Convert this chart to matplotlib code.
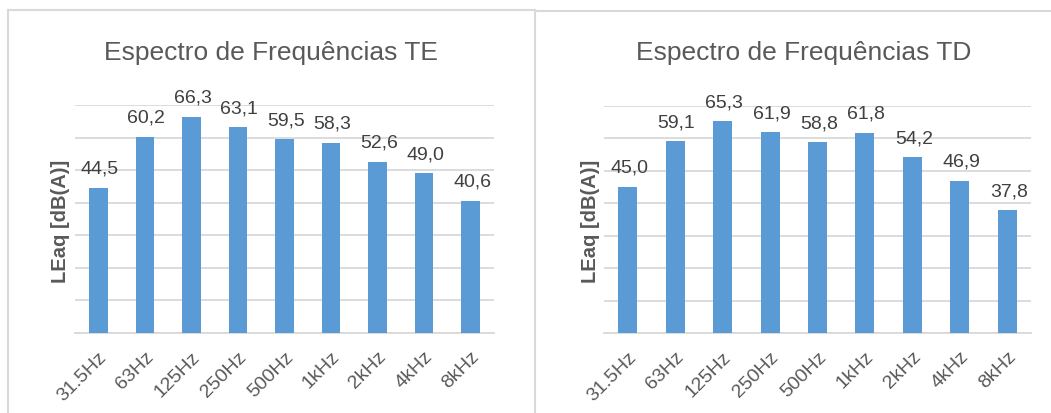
"""Espectro de frequências TE / TD — LEaq por banda de oitava (Excel-style bars)."""

import matplotlib.pyplot as plt
from matplotlib.lines import Line2D

plt.rcParams["font.family"] = ["Liberation Sans", "DejaVu Sans"]

W, H = 1051, 414

BANDS = ["31.5Hz", "63Hz", "125Hz", "250Hz", "500Hz", "1kHz", "2kHz", "4kHz", "8kHz"]
TE_VALUES = [44.5, 60.2, 66.3, 63.1, 59.5, 58.3, 52.6, 49.0, 40.6]
TD_VALUES = [45.0, 59.1, 65.3, 61.9, 58.8, 61.8, 54.2, 46.9, 37.8]
TITLES = ["Espectro de Frequências TE", "Espectro de Frequências TD"]
YLABEL = "LEaq [dB(A)]"

BAR_COLOUR = "#5B9BD5"
GRID_COLOUR = "#D9D9D9"
TEXT_COLOUR = "#595959"
LABEL_COLOUR = "#404040"


def px_rect(x0, y0, x1, y1):
    # pixel box (top-left origin) -> figure fraction [l, b, w, h]
    return [x0 / W, (H - y1) / H, (x1 - x0) / W, (y1 - y0) / H]


def draw_panel(fig, axes_box, title, title_xy, ylabel_xy, values):
    ax = fig.add_axes(px_rect(*axes_box))
    x = range(len(BANDS))
    bars = ax.bar(x, values, width=0.4, color=BAR_COLOUR, zorder=3)
    ax.set_xlim(-0.5, len(BANDS) - 0.5)
    ax.set_ylim(0, 70)
    ax.set_yticks(range(0, 71, 10))
    ax.yaxis.grid(True, color=GRID_COLOUR, linewidth=1.3, zorder=0)
    ax.tick_params(axis="y", left=False, labelleft=False)
    ax.tick_params(axis="x", bottom=False, pad=7)
    for side in ("left", "right", "top"):
        ax.spines[side].set_visible(False)
    ax.spines["bottom"].set_color(GRID_COLOUR)
    ax.spines["bottom"].set_linewidth(1.3)

    ax.set_xticks(list(x))
    ax.set_xticklabels(BANDS, rotation=45, ha="right", va="top",
                       rotation_mode="anchor", fontsize=14, color=TEXT_COLOUR)

    for b, v in zip(bars, values):
        ax.annotate(f"{v:.1f}".replace(".", ","),
                    (b.get_x() + b.get_width() / 2, v),
                    xytext=(1, 8), textcoords="offset points",
                    ha="center", va="bottom", fontsize=14, color=LABEL_COLOUR)

    fig.text(title_xy[0] / W, 1 - title_xy[1] / H, title, ha="center", va="center",
             fontsize=19, color=TEXT_COLOUR)
    fig.text(ylabel_xy[0] / W, 1 - ylabel_xy[1] / H, YLABEL, ha="center", va="center",
             rotation=90, fontsize=14.5, fontweight="bold", color=TEXT_COLOUR)
    return ax


def main():
    fig = plt.figure(figsize=(W / 100, H / 100), dpi=100)
    fig.patch.set_facecolor("white")

    # chart frames (light grey borders like the Excel chart areas)
    frame = dict(color=GRID_COLOUR, linewidth=1.5, transform=fig.transFigure)
    fig.add_artist(Line2D([8 / W, 8 / W], [0, 1 - 11 / H], **frame))
    fig.add_artist(Line2D([8 / W, 535 / W], [1 - 11 / H, 1 - 11 / H], **frame))
    fig.add_artist(Line2D([535 / W, 535 / W], [0, 1 - 11 / H], **frame))
    fig.add_artist(Line2D([535 / W, 1], [1 - 12 / H, 1 - 12 / H], **frame))

    draw_panel(fig, (75, 106, 494, 334), TITLES[0], (271, 53), (61, 221), TE_VALUES)
    draw_panel(fig, (604, 107, 1031, 334), TITLES[1], (804, 53), (591, 221), TD_VALUES)

    fig.savefig("out.png", dpi=100, facecolor=fig.get_facecolor())


if __name__ == "__main__":
    main()
